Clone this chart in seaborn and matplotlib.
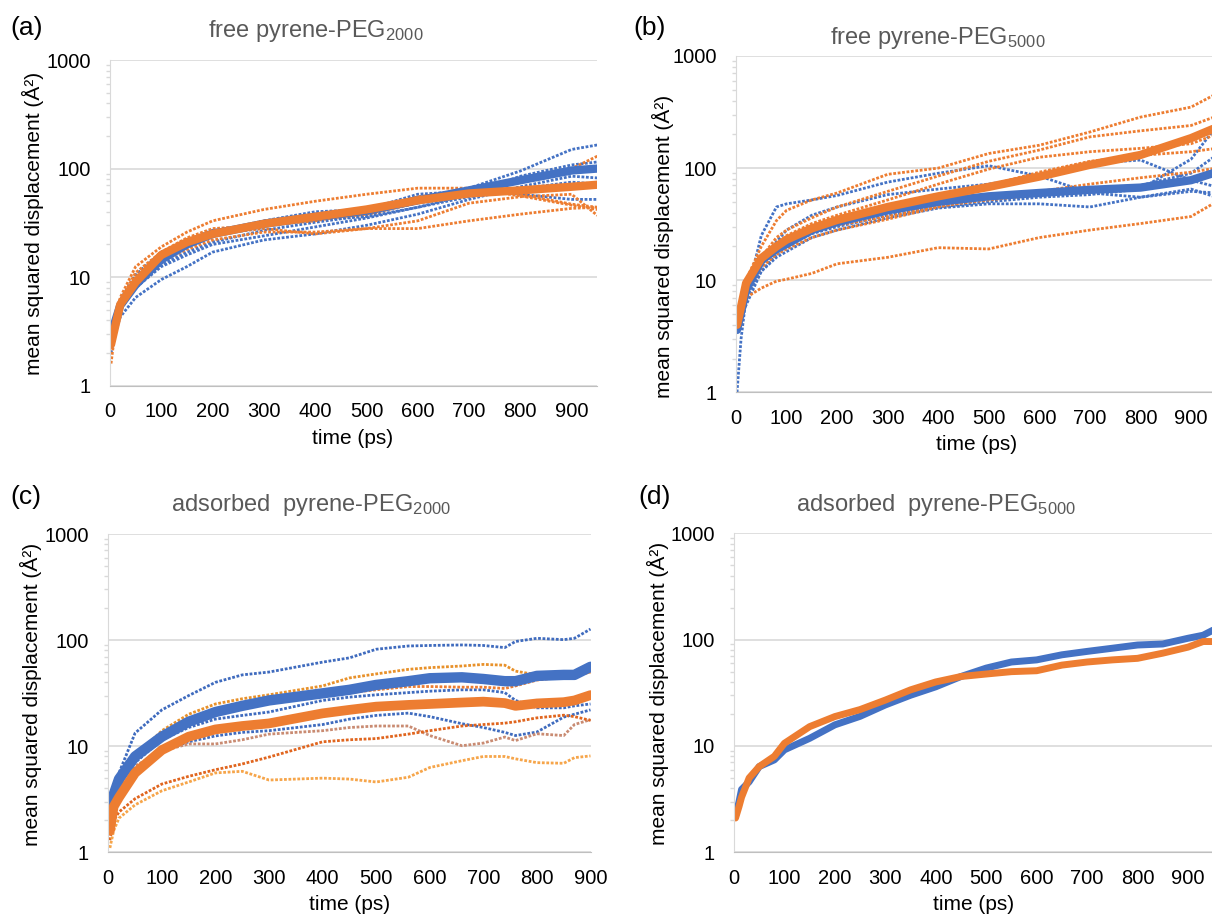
import matplotlib
matplotlib.use('Agg')
import matplotlib.pyplot as plt
from matplotlib.ticker import LogLocator, NullFormatter
import seaborn as sns

# --- (a) free pyrene-PEG2000 ---
t_a = [2, 10, 20, 50, 100, 150, 200, 300, 400, 500, 600, 700, 800, 900, 950]
a_blue_mean = [2.6, 3.9, 5.5, 8.5, 14.5, 20, 25, 31, 36, 41, 51, 63, 78, 96, 100]
a_orange_mean = [2.4, 3.5, 5.6, 9, 16, 21, 25, 31, 36, 42, 51, 59, 63, 68, 71]
a_blue_1 = [2.5, 3.5, 5, 8, 13, 17, 21, 27, 32, 37, 50, 66, 95, 150, 165]
a_blue_2 = [2.0, 3.0, 4.3, 6.5, 9.5, 12.5, 17, 22, 25, 30, 38, 52, 68, 85, 82]
a_blue_3 = [2.7, 4.2, 6, 9.5, 15, 21, 26, 33, 40, 42, 58, 62, 58, 52, 52]
a_blue_4 = [2.5, 3.6, 5, 8, 12.5, 16, 20, 24, 29, 35, 44, 55, 65, 75, 72]
a_blue_5 = [2.8, 4.3, 6.2, 10.5, 17, 22, 27, 30, 34, 36, 44, 58, 85, 108, 115]
a_orange_1 = [2.4, 4.2, 6.5, 12.5, 19, 26, 33, 42, 50, 58, 66, 66, 56, 46, 42]
a_orange_2 = [1.6, 3.2, 5, 9, 14, 18, 22, 26, 26, 28, 28, 33, 38, 43, 44]
a_orange_3 = [2.3, 3.6, 5.2, 10, 16, 21, 25, 28, 25, 28, 33, 48, 55, 58, 37]
a_orange_4 = [2.2, 3.5, 5.5, 9.5, 15, 20, 25, 30, 34, 38, 48, 60, 75, 100, 130]
a_orange_5 = [2.5, 4.0, 6, 11, 17, 23, 28, 30, 33, 40, 55, 62, 58, 47, 44]

# --- (b) free pyrene-PEG5000 ---
t_b = [2, 10, 20, 50, 80, 100, 150, 200, 300, 400, 500, 600, 700, 800, 900, 950]
b_blue_mean = [3.6, 5.2, 8.2, 15, 19, 21, 28, 33, 42, 50, 56, 60, 64, 67, 78, 92]
b_orange_mean = [4.0, 5.8, 9.4, 15.7, 20, 23, 29, 34.5, 45, 56, 68, 84, 107, 131, 185, 230]
b_blue_1 = [1.0, 3, 7, 25, 45, 48, 52, 57, 75, 90, 105, 85, 60, 55, 62, 60]
b_blue_2 = [3.5, 5, 8, 15, 22, 28, 38, 45, 58, 65, 72, 85, 110, 118, 78, 68]
b_blue_3 = [3.5, 4.8, 7, 12, 17, 20, 26, 30, 38, 45, 50, 55, 58, 65, 120, 235]
b_blue_4 = [3.8, 5, 6, 12, 16, 18, 24, 28, 36, 44, 48, 48, 45, 55, 65, 55]
b_blue_5 = [3.6, 5.5, 7.5, 14, 19, 22, 29, 33, 41, 50, 58, 62, 66, 70, 90, 130]
b_orange_1 = [4, 6, 10, 20, 34, 42, 52, 60, 88, 100, 135, 160, 210, 285, 350, 460]
b_orange_2 = [4, 6, 9, 16, 24, 28, 36, 45, 62, 85, 115, 145, 190, 215, 240, 290]
b_orange_3 = [3.8, 5.5, 8.5, 15, 21, 25, 32, 38, 52, 72, 98, 125, 140, 150, 165, 200]
b_orange_4 = [3.5, 5.2, 8, 14, 19, 22, 28, 32, 40, 52, 70, 92, 115, 130, 140, 150]
b_orange_5 = [3.5, 5, 7.5, 13, 17, 19, 24, 28, 35, 45, 55, 62, 72, 82, 92, 100]
b_orange_6 = [3.5, 5, 7, 8.5, 9.8, 10.2, 11.5, 14, 16, 19.5, 19, 24, 28, 32, 37, 50]
b_orange_7 = [3.8, 5.3, 8, 14, 18, 21, 27, 31, 37, 46, 52, 58, 62, 66, 80, 93]

# --- (c) adsorbed pyrene-PEG2000 ---
t_c = [3, 10, 20, 50, 100, 150, 200, 250, 300, 400, 450, 500, 560, 600, 660, 700, 740, 760, 800, 850, 870, 900]
c_blue_mean = [2.2, 3.5, 4.9, 8, 12.3, 17, 21, 24, 27, 31.5, 34, 37.8, 41, 43.7, 44.6, 43, 41, 41, 46, 47, 47, 56]
c_orange_mean = [1.6, 2.7, 3.3, 5.6, 9.2, 12.3, 14.4, 15.5, 16.4, 20.4, 22, 23.6, 24.5, 25, 25.8, 26.3, 25.5, 24, 25.3, 26, 27, 30.3]
c_blue_1 = [2.0, 3.5, 5.6, 13.3, 22, 30, 40, 47, 50, 62, 68, 82, 88, 89, 90, 89, 85, 97, 104, 101, 104, 127]
c_blue_2 = [2.0, 3.2, 4.4, 7, 11.5, 15, 18, 19.5, 21, 27, 29, 30.5, 32, 33, 34, 34, 32, 27, 23, 23, 24, 25]
c_blue_3 = [1.8, 2.8, 3.8, 6, 9, 11, 12.5, 13.5, 14, 16, 18, 19.5, 20.5, 19, 16.3, 15, 13.5, 12.6, 13.6, 18.8, 20, 22]
c_orange_1 = [1.5, 2.8, 4.0, 8, 14, 20, 25, 28, 30.5, 37, 44, 48, 53, 55, 57, 59, 58, 51, 47, 46, 46.5, 50]
c_orange_2 = [1.8, 3, 4.5, 7.5, 12, 16, 20, 23, 26, 30, 32, 34, 36.5, 36.5, 36, 36, 35, 37, 42, 45, 46, 50]
c_brown = [1.6, 2.6, 3.6, 6.5, 9, 10.5, 10.5, 11.5, 13, 14, 15, 15.5, 15.5, 12.6, 10.1, 10.7, 12.2, 11.3, 13.1, 12.6, 16, 17.8]
c_red = [1.3, 2.0, 2.4, 3.2, 4.4, 5.2, 6, 6.8, 7.9, 11, 11.5, 11.8, 13, 14, 15.5, 16, 16.5, 17, 18.5, 19.6, 19, 17.5]
c_light = [1.1, 1.6, 2.1, 2.8, 3.8, 4.6, 5.6, 5.8, 4.8, 5.0, 4.9, 4.6, 5.1, 6.3, 7.3, 8.0, 8.0, 7.6, 7.0, 6.9, 7.8, 8.1]

# --- (d) adsorbed pyrene-PEG5000 ---
t_d = [3, 10, 15, 30, 50, 80, 100, 150, 200, 250, 300, 350, 400, 450, 500, 550, 600, 650, 700, 750, 800, 850, 900, 930, 950]
d_blue = [2.2, 3.0, 3.9, 4.6, 6.4, 7.4, 9.2, 11.8, 15.8, 19, 24.3, 30, 36, 45, 54, 61.6, 64.5, 72, 77.5, 83, 89, 91, 103, 110, 123]
d_orange = [2.1, 2.7, 3.3, 5.0, 6.4, 8.0, 10.6, 15.2, 18.9, 22, 27, 33.7, 40, 45, 47.5, 50, 51, 57.6, 61.6, 64.5, 66.7, 74.6, 85, 96, 96]

BLUE = '#4472C4'
ORANGE = '#ED7D31'
W, H = 1212, 916

sns.set_style('white')
plt.rcParams['font.family'] = ['Liberation Sans', 'DejaVu Sans']
plt.rcParams['mathtext.default'] = 'regular'

fig = plt.figure(figsize=(W / 100, H / 100), dpi=100)


def make_axes(x0, x1, top, bottom):
    return fig.add_axes([x0 / W, 1 - bottom / H, (x1 - x0) / W, (bottom - top) / H])


def thin(ax, t, v, color):
    sns.lineplot(x=t, y=v, ax=ax, color=color, linewidth=2.0, linestyle=(0, (1, 0.6)),
                 estimator=None, sort=False)


def thick(ax, t, v, color, lw=6):
    sns.lineplot(x=t, y=v, ax=ax, color=color, linewidth=lw, estimator=None, sort=False,
                 solid_capstyle='round')


def style(ax, xmax):
    ax.set_yscale('log')
    ax.set_ylim(1, 1000)
    ax.set_xlim(0, xmax)
    ax.set_yticks([1, 10, 100, 1000])
    ax.set_yticklabels(['1', '10', '100', '1000'])
    ax.yaxis.set_minor_locator(LogLocator(base=10, subs=range(2, 10)))
    ax.yaxis.set_minor_formatter(NullFormatter())
    ax.set_xticks(list(range(0, int(xmax) + 1, 100)))
    ax.set_axisbelow(True)
    ax.grid(axis='y', which='major', color='#D9D9D9', lw=1.2)
    ax.grid(axis='x', visible=False)
    for s in ['top', 'right']:
        ax.spines[s].set_visible(False)
    ax.spines['left'].set_color('#D9D9D9')
    ax.spines['bottom'].set_color('#BFBFBF')
    ax.tick_params(axis='x', direction='out', length=4, width=1, color='#BFBFBF',
                   pad=8, labelsize=14.5, labelcolor='black')
    ax.tick_params(axis='y', which='major', direction='out', length=5, width=1,
                   color='#D9D9D9', pad=9, labelsize=14.5, labelcolor='black')
    ax.tick_params(axis='y', which='minor', direction='out', length=3, width=1,
                   color='#D9D9D9', left=True)
    ax.set_xlabel('')
    ax.set_ylabel('')


def ftext(x, y, s, **kw):
    fig.text(x / W, 1 - y / H, s, **kw)


# (a)
ax_a = make_axes(110, 597.3, 60, 385.7)
for v in [a_blue_1, a_blue_2, a_blue_3, a_blue_4, a_blue_5]:
    thin(ax_a, t_a, v, BLUE)
for v in [a_orange_1, a_orange_2, a_orange_3, a_orange_4, a_orange_5]:
    thin(ax_a, t_a, v, ORANGE)
thick(ax_a, t_a, a_blue_mean, BLUE)
thick(ax_a, t_a, a_orange_mean, ORANGE)
style(ax_a, 950)

# (b)
ax_b = make_axes(736, 1216.3, 56, 392.3)
for v in [b_blue_1, b_blue_2, b_blue_3, b_blue_4, b_blue_5]:
    thin(ax_b, t_b, v, BLUE)
for v in [b_orange_1, b_orange_2, b_orange_3, b_orange_4, b_orange_5, b_orange_6, b_orange_7]:
    thin(ax_b, t_b, v, ORANGE)
thick(ax_b, t_b, b_blue_mean, BLUE)
thick(ax_b, t_b, b_orange_mean, ORANGE)
style(ax_b, 950)

# (c)
ax_c = make_axes(108.3, 590.5, 534, 852.3)
for v in [c_blue_1, c_blue_2, c_blue_3]:
    thin(ax_c, t_c, v, '#3F6BBE')
thin(ax_c, t_c, c_orange_1, '#E8912A')
thin(ax_c, t_c, c_orange_2, ORANGE)
thin(ax_c, t_c, c_brown, '#C98B72')
thin(ax_c, t_c, c_red, '#E0651E')
thin(ax_c, t_c, c_light, '#F6A54A')
thick(ax_c, t_c, c_blue_mean, BLUE, lw=7.5)
thick(ax_c, t_c, c_orange_mean, ORANGE, lw=7)
style(ax_c, 900)

# (d)
ax_d = make_axes(734, 1213.2, 533.3, 852.3)
thick(ax_d, t_d, d_blue, BLUE, lw=5)
thick(ax_d, t_d, d_orange, ORANGE, lw=5)
style(ax_d, 950)

# panel letters, titles and axis labels
for x, y, s in [(10, 28, '(a)'), (633, 28, '(b)'), (10, 497, '(c)'), (638, 497, '(d)')]:
    ftext(x, y, s, fontsize=19, color='black', ha='left', va='center')

title_kw = dict(fontsize=17, color='#595959', ha='center', va='center')
ftext(316, 31, 'free pyrene-PEG$_{2000}$', **title_kw)
ftext(938, 38, 'free pyrene-PEG$_{5000}$', **title_kw)
ftext(311, 505, 'adsorbed  pyrene-PEG$_{2000}$', **title_kw)
ftext(936, 505, 'adsorbed  pyrene-PEG$_{5000}$', **title_kw)

lab_kw = dict(fontsize=15, color='black', ha='center', va='center')
ylab = 'mean squared displacement (Å²)'
ftext(33, 223, ylab, rotation=90, **lab_kw)
ftext(663, 246, ylab, rotation=90, **lab_kw)
ftext(31, 694, ylab, rotation=90, **lab_kw)
ftext(658, 693, ylab, rotation=90, **lab_kw)
ftext(353, 438, 'time (ps)', **lab_kw)
ftext(977, 445, 'time (ps)', **lab_kw)
ftext(350, 904, 'time (ps)', **lab_kw)
ftext(974, 904, 'time (ps)', **lab_kw)

plt.savefig('out.png', dpi=100)
